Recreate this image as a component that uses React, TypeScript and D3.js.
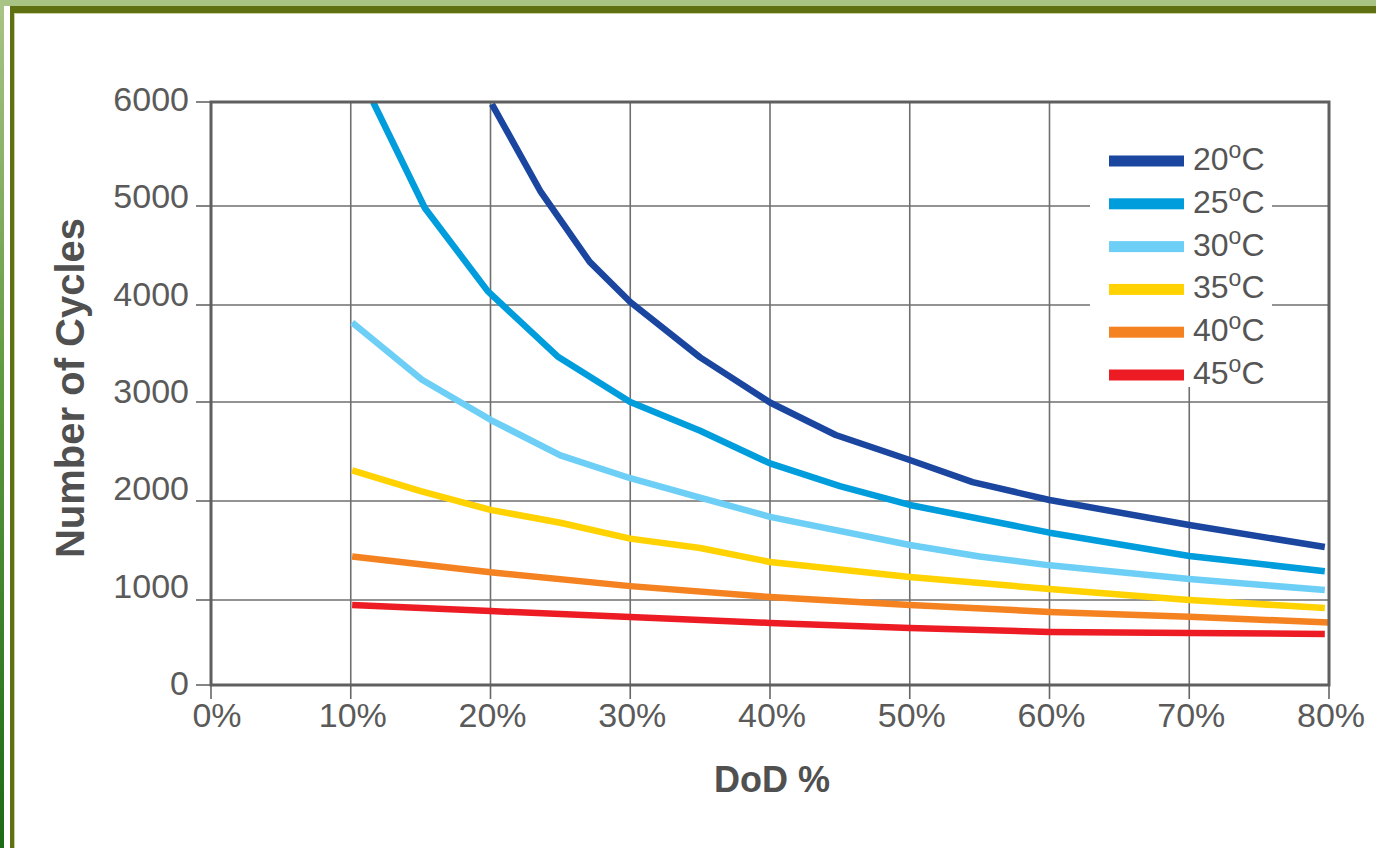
import React from "react";
import * as d3 from "d3";

// ---- data ----
const xTicks = [0, 10, 20, 30, 40, 50, 60, 70, 80];
const xTickLabels = ["0%", "10%", "20%", "30%", "40%", "50%", "60%", "70%", "80%"];
const yTicks = [0, 1000, 2000, 3000, 4000, 5000, 6000];
const yTickLabels = ["0", "1000", "2000", "3000", "4000", "5000", "6000"];

const seriesNames = ["20", "25", "30", "35", "40", "45"];
const seriesColors = ["#1b46a0", "#009ddc", "#6dcff6", "#ffd200", "#f58220", "#ed1c24"];

const dod20 = [20.1, 23.6, 27.1, 30, 35, 40, 44.7, 50, 54.5, 60, 70, 79.7];
const cycles20 = [5980, 5135, 4435, 4030, 3460, 2995, 2667, 2414, 2190, 2010, 1757, 1535];

const dod25 = [11.6, 15.3, 19.8, 24.8, 30, 35, 40, 45, 50, 60, 70, 79.7];
const cycles25 = [6000, 4980, 4140, 3470, 3000, 2710, 2380, 2150, 1960, 1680, 1444, 1290];

const dod30 = [10.1, 15.1, 20, 25, 30, 35, 40, 50, 55, 60, 70, 79.7];
const cycles30 = [3820, 3230, 2820, 2460, 2230, 2035, 1840, 1555, 1440, 1350, 1212, 1100];

const dod35 = [10.1, 15, 20, 25, 30, 35, 40, 50, 60, 70, 79.7];
const cycles35 = [2310, 2100, 1910, 1780, 1620, 1525, 1384, 1232, 1111, 1000, 906];

const dod40 = [10.1, 20, 30, 40, 50, 60, 70, 80];
const cycles40 = [1440, 1280, 1140, 1030, 940, 860, 804, 735];

const dod45 = [10.1, 20, 30, 40, 50, 60, 70, 79.7];
const cycles45 = [940, 870, 800, 730, 670, 624, 612, 600];

const seriesX = [dod20, dod25, dod30, dod35, dod40, dod45];
const seriesY = [cycles20, cycles25, cycles30, cycles35, cycles40, cycles45];

const W = 1376;
const H = 848;
const FONT = "'Liberation Sans', Arial, Helvetica, sans-serif";

export default function App() {
  const left = 211, right = 1329, top = 102, bottom = 685;
  const x = d3.scaleLinear().domain([0, 80]).range([left, right]);
  // the printed grid is not evenly spaced: piecewise scale matching the gridlines
  const y = d3
    .scaleLinear()
    .domain(yTicks)
    .range([685, 600, 501, 402, 305, 206, 102]);
  // tick labels are placed evenly
  const yLab = d3.scaleLinear().domain([0, 6000]).range([683, 99]);

  const line = d3
    .line<[number, number]>()
    .x((d) => x(d[0]))
    .y((d) => y(d[1]));

  const legendTop = 161;
  const legendStep = 42.8;

  return (
    <svg
      width={W}
      height={H}
      style={{ position: "absolute", left: 0, top: 0, background: "#fff" }}
      fontFamily={FONT}
    >
      <defs>
        <linearGradient id="lg" x1="0" y1="0" x2="0" y2="1">
          <stop offset="0%" stopColor="#a9c487" />
          <stop offset="45%" stopColor="#5f9a3e" />
          <stop offset="100%" stopColor="#1c6b17" />
        </linearGradient>
        <clipPath id="plotClip">
          <rect x={left} y={top} width={right - left} height={bottom - top} />
        </clipPath>
      </defs>
      <rect x={0} y={0} width={W} height={H} fill="#fff" />
      {/* frame */}
      <rect x={0} y={0} width={W} height={6} fill="#a9c384" />
      <rect x={0} y={0} width={4} height={H} fill="url(#lg)" />
      <rect x={10} y={6} width={W - 10} height={7} fill="#5e7012" />
      <rect x={10} y={6} width={4} height={H - 6} fill="#5e7012" />
      <rect x={14} y={13} width={W - 14} height={1} fill="#c9d2a4" />
      <rect x={14} y={13} width={1} height={H - 13} fill="#c9d2a4" />

      {/* grid */}
      {yTicks.slice(1, -1).map((v) => (
        <line key={"gy" + v} x1={left} x2={right} y1={y(v)} y2={y(v)} stroke="#6f6f6f" strokeWidth={1.6} />
      ))}
      {xTicks.slice(1, -1).map((v) => (
        <line key={"gx" + v} x1={x(v)} x2={x(v)} y1={top} y2={bottom} stroke="#6f6f6f" strokeWidth={1.6} />
      ))}

      {/* ticks */}
      {yTicks.map((v) => (
        <line key={"ty" + v} x1={196} x2={left} y1={y(v)} y2={y(v)} stroke="#666" strokeWidth={1.6} />
      ))}
      {xTicks.map((v) => (
        <line key={"tx" + v} x1={x(v)} x2={x(v)} y1={bottom} y2={699} stroke="#666" strokeWidth={1.6} />
      ))}

      {/* legend background */}
      <rect x={1090} y={103} width={182} height={284} fill="#fff" />

      {/* series */}
      <g clipPath="url(#plotClip)">
        {seriesX.map((xs, i) => (
          <path
            key={"s" + i}
            d={line(xs.map((v, j) => [v, seriesY[i][j]] as [number, number])) || ""}
            fill="none"
            stroke={seriesColors[i]}
            strokeWidth={6.5}
            strokeLinejoin="round"
          />
        ))}
      </g>

      {/* plot frame */}
      <rect x={left} y={top} width={right - left} height={bottom - top} fill="none" stroke="#5f5f5f" strokeWidth={3} />

      {/* legend */}
      {seriesNames.map((n, i) => (
        <g key={"l" + n} transform={`translate(0, ${legendTop + i * legendStep})`}>
          <rect x={1109} y={-5.5} width={75} height={11} fill={seriesColors[i]} />
          <text x={1193} y={9} fontSize={32} fill="#555">
            {n}
            <tspan fontSize={23} dy={-12}>o</tspan>
            <tspan dy={12}>C</tspan>
          </text>
        </g>
      ))}

      {/* tick labels */}
      {yTicks.map((v, i) => (
        <text key={"yl" + v} x={189} y={yLab(v)} dy="0.35em" textAnchor="end" fontSize={34} fill="#5a5a5a">
          {yTickLabels[i]}
        </text>
      ))}
      {xTicks.map((v, i) => (
        <text key={"xl" + v} x={x(v) + (i === 0 ? 6 : 2)} y={727} textAnchor="middle" fontSize={34} fill="#5a5a5a">
          {xTickLabels[i]}
        </text>
      ))}

      {/* axis titles */}
      <text x={772} y={792} textAnchor="middle" fontSize={36} fontWeight="bold" fill="#505050">
        DoD %
      </text>
      <text
        transform="translate(84, 388) rotate(-90)"
        textAnchor="middle"
        fontSize={40}
        fontWeight="bold"
        fill="#505050"
      >
        Number of Cycles
      </text>
    </svg>
  );
}
